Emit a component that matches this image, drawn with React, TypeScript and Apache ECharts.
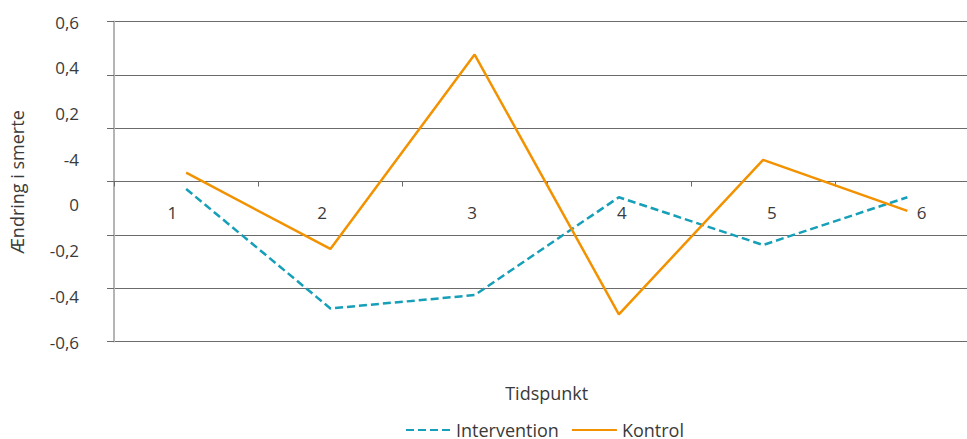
import React, { useEffect, useRef } from "react";
import * as echarts from "echarts";

const categories = ["1", "2", "3", "4", "5", "6"];
const xTickLabels = ["1", "2", "3", "4", "5", "6"];
const yTickLabels = ["-0,6", "-0,4", "-0,2", "0", "-4", "0,2", "0,4", "0,6"];
const intervention = [-0.028, -0.476, -0.426, -0.059, -0.238, -0.059];
const kontrol = [0.033, -0.253, 0.476, -0.498, 0.081, -0.11];
const xTitle = "Tidspunkt";
const yTitle = "Ændring i smerte";

const FONT = "'Open Sans', 'Noto Sans', sans-serif";
const TEXT = "#3a3a3a";
const GRID = "#6b6b6b";
const TEAL = "#159fb8";
const ORANGE = "#f39200";

export default function App() {
  const ref = useRef<HTMLDivElement>(null);
  useEffect(() => {
    document.body.style.margin = "0";
    if (!ref.current) return;
    const chart = echarts.init(ref.current, null, { renderer: "svg" });
    chart.setOption({
      animation: false,
      textStyle: { fontFamily: FONT, color: TEXT },
      grid: [
        { left: 114, top: 21.5, width: 865.5, height: 320, outerBoundsMode: "none", containLabel: false },
        { left: 114, top: 22, width: 100, height: 320, outerBoundsMode: "none", containLabel: false },
        { left: 172.3, top: 0, width: 749.4, height: 212, outerBoundsMode: "none", containLabel: false },
      ],
      graphic: [
        {
          type: "text",
          x: 546.7,
          y: 393,
          style: {
            text: xTitle,
            align: "center",
            verticalAlign: "middle",
            fontSize: 18,
            fontFamily: FONT,
            fill: TEXT,
          },
        },
      ],
      xAxis: [
        {
          type: "category",
          gridIndex: 0,
          data: categories,
          boundaryGap: true,
          axisLine: { onZero: true, lineStyle: { color: GRID, width: 1 } },
          axisTick: { show: true, interval: 0, length: 5, lineStyle: { color: GRID } },
          axisLabel: { show: false },
          splitLine: { show: false },
        },
        { type: "category", gridIndex: 1, show: false, data: ["a"] },
        {
          type: "category",
          gridIndex: 2,
          data: xTickLabels,
          boundaryGap: false,
          axisLine: { show: false },
          axisTick: { show: false },
          splitLine: { show: false },
          axisLabel: {
            margin: 0,
            verticalAlign: "middle",
            fontSize: 17,
            color: TEXT,
            fontFamily: FONT,
            interval: 0,
          },
        },
      ],
      yAxis: [
        {
          type: "value",
          gridIndex: 0,
          min: -0.6,
          max: 0.6,
          interval: 0.2,
          axisLine: { show: true, lineStyle: { color: "#b5b5b5", width: 2 } },
          axisTick: { show: true, length: 7, lineStyle: { color: GRID } },
          axisLabel: { show: false },
          splitLine: { show: true, lineStyle: { color: GRID, width: 1 } },
        },
        {
          type: "category",
          gridIndex: 1,
          data: yTickLabels,
          boundaryGap: false,
          axisLine: { show: false },
          axisTick: { show: false },
          splitLine: { show: false },
          axisLabel: { margin: 35, fontSize: 17, color: TEXT, fontFamily: FONT, interval: 0 },
          name: yTitle,
          nameLocation: "middle",
          nameRotate: 90,
          nameGap: 88,
          nameTextStyle: { fontSize: 18, color: TEXT, fontFamily: FONT },
        },
        { type: "value", gridIndex: 2, show: false },
      ],
      legend: {
        left: 405,
        top: 421,
        padding: 0,
        itemWidth: 45,
        itemHeight: 14,
        itemGap: 12,
        itemStyle: { opacity: 0 },
        textStyle: { fontSize: 18, color: TEXT, fontFamily: FONT },
        data: ["Intervention", "Kontrol"],
      },
      series: [
        {
          name: "Intervention",
          type: "line",
          xAxisIndex: 0,
          yAxisIndex: 0,
          data: intervention,
          symbol: "none",
          lineStyle: { color: TEAL, width: 2.5, type: [8, 4] },
          itemStyle: { color: TEAL },
        },
        {
          name: "Kontrol",
          type: "line",
          xAxisIndex: 0,
          yAxisIndex: 0,
          data: kontrol,
          symbol: "none",
          lineStyle: { color: ORANGE, width: 2.5 },
          itemStyle: { color: ORANGE },
        },
      ],
    });
    return () => chart.dispose();
  }, []);
  return <div ref={ref} style={{ width: 967, height: 439 }} />;
}
